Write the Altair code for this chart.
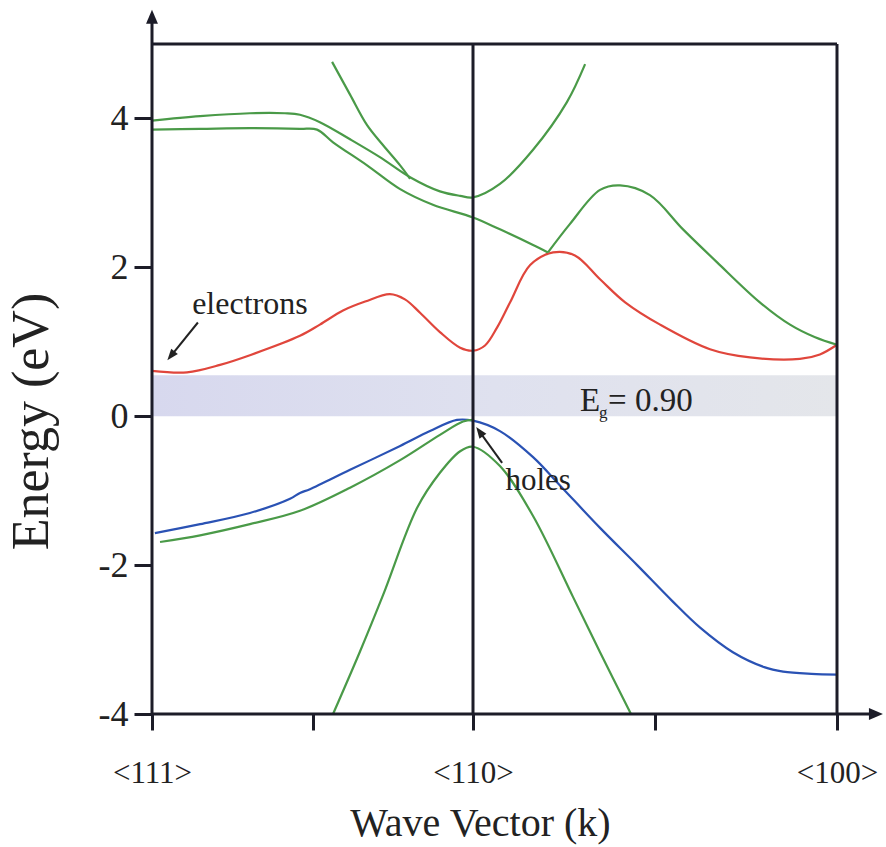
import altair as alt
import pandas as pd

# k positions: 0 = <111>, 1 = <110>, 2 = <100>
tick_k = [0, 0.5, 1, 1.5, 2]
tick_names = ["<111>", "", "<110>", "", "<100>"]
energy_ticks = [-4, -2, 0, 2, 4]

red_k = [0.0, 0.109, 0.212, 0.305, 0.461, 0.523, 0.595, 0.664, 0.741, 0.788, 0.835, 0.897, 0.960, 1.0,
         1.033, 1.066, 1.102, 1.157, 1.220, 1.280, 1.349, 1.418, 1.514, 1.651, 1.761, 1.898, 1.953, 2.0]
red_E = [0.61, 0.59, 0.69, 0.82, 1.08, 1.23, 1.42, 1.54, 1.64, 1.57, 1.39, 1.13, 0.92, 0.88,
         0.95, 1.19, 1.53, 2.03, 2.20, 2.16, 1.84, 1.53, 1.23, 0.90, 0.79, 0.77, 0.83, 0.96]

blue_k = [0.009, 0.150, 0.305, 0.430, 0.461, 0.492, 0.617, 0.773, 0.866, 0.950, 1.0,
          1.074, 1.165, 1.239, 1.349, 1.451, 1.547, 1.624, 1.714, 1.800, 1.852, 1.930, 2.0]
blue_E = [-1.57, -1.45, -1.30, -1.11, -1.03, -0.98, -0.72, -0.40, -0.20, -0.05, -0.06,
          -0.20, -0.55, -0.93, -1.50, -2.00, -2.48, -2.84, -3.17, -3.37, -3.43, -3.46, -3.47]

lh_k = [0.025, 0.150, 0.305, 0.461, 0.617, 0.773, 0.897, 0.969, 1.0]
lh_E = [-1.69, -1.60, -1.45, -1.27, -0.96, -0.59, -0.25, -0.07, -0.05]

so_k = [0.564, 0.648, 0.720, 0.826, 0.897, 0.960, 1.0, 1.074, 1.165, 1.275, 1.349, 1.434]
so_E = [-4.0, -3.16, -2.40, -1.23, -0.76, -0.47, -0.41, -0.67, -1.34, -2.43, -3.17, -4.0]

upA_k = [0.0, 0.150, 0.305, 0.414, 0.461, 0.523, 0.617, 0.710, 0.804, 0.897, 0.960, 1.0,
         1.074, 1.165, 1.258, 1.308]
upA_E = [3.97, 4.03, 4.07, 4.07, 4.05, 3.95, 3.72, 3.48, 3.21, 3.02, 2.96, 2.94,
         3.12, 3.58, 4.22, 4.73]

upB_k = [0.561, 0.617, 0.670, 0.720, 0.773, 0.804]
upB_E = [4.76, 4.32, 3.91, 3.64, 3.37, 3.19]

upC1_k = [0.0, 0.150, 0.305, 0.461, 0.514, 0.564, 0.670, 0.773, 0.875, 1.0, 1.074, 1.165, 1.206]
upC1_E = [3.85, 3.86, 3.87, 3.86, 3.85, 3.68, 3.37, 3.05, 2.84, 2.67, 2.51, 2.30, 2.20]

upC2_k = [1.206, 1.266, 1.349, 1.404, 1.486, 1.577, 1.670, 1.788, 1.871, 1.940, 2.0]
upC2_E = [2.20, 2.58, 3.04, 3.10, 2.97, 2.51, 2.07, 1.53, 1.23, 1.06, 0.96]

gap_top = 0.55
gap_label_value = "0.90"

series = [
    ("red", "cb", red_k, red_E),
    ("blue", "hh", blue_k, blue_E),
    ("green", "lh", lh_k, lh_E),
    ("green", "so", so_k, so_E),
    ("green", "upA", upA_k, upA_E),
    ("green", "upB", upB_k, upB_E),
    ("green", "upC1", upC1_k, upC1_E),
    ("green", "upC2", upC2_k, upC2_E),
]
rows = []
for kind, band, ks, es in series:
    for k, e in zip(ks, es):
        rows.append({"kind": kind, "band": band, "k": k, "E": e})
bands = pd.DataFrame(rows)

FONT = "Liberation Serif"
DARK = "#1c1c28"
TXT = "#222222"

xscale = alt.Scale(domain=[0, 1, 2], range=[0, 321, 685], nice=False, zero=False)
yscale = alt.Scale(domain=[-4, 5], nice=False, zero=False)

label_expr = ("datum.value == 0 ? '%s' : datum.value == 1 ? '%s' : datum.value == 2 ? '%s' : ''"
              % (tick_names[0], tick_names[2], tick_names[4]))

xaxis = alt.Axis(values=tick_k, labelExpr=label_expr, domain=False, grid=False,
                 tickSize=16, tickWidth=3, tickColor=DARK,
                 labelFont=FONT, labelFontSize=31, labelColor=TXT,
                 labelBaseline="alphabetic", labelPadding=52, labelFlush=False,
                 labelOverlap=False,
                 titleFont=FONT, titleFontSize=40, titleFontWeight="normal", titleColor=TXT,
                 titleX=328, titleY=121, titleBaseline="alphabetic", titleAlign="center")
yaxis = alt.Axis(values=energy_ticks, domain=False, grid=False,
                 tickSize=18, tickWidth=3, tickColor=DARK,
                 labelExpr="datum.value < 0 ? '-' + abs(datum.value) : '' + datum.value",
                 labelFont=FONT, labelFontSize=36, labelColor=TXT, labelPadding=6,
                 labelFlush=False,
                 titleFont=FONT, titleFontSize=52, titleFontWeight="normal", titleColor=TXT,
                 titleX=-121, titleY=377, titleBaseline="middle", titleAlign="center",
                 titleAngle=-90)


def X(field):
    return alt.X(field, type="quantitative", scale=xscale, axis=xaxis, title="Wave Vector (k)")


def Y(field):
    return alt.Y(field, type="quantitative", scale=yscale, axis=yaxis, title="Energy (eV)")


# energy gap shading
gap_df = pd.DataFrame([{"k": 0, "k2": 2, "E": 0, "E2": gap_top}])
gap = alt.Chart(gap_df).mark_rect(
    color=alt.Gradient(gradient="linear",
                       stops=[alt.GradientStop(color="#d7d8ee", offset=0),
                              alt.GradientStop(color="#dfe1ef", offset=0.5),
                              alt.GradientStop(color="#e4e6ea", offset=1)],
                       x1=0, x2=1, y1=0, y2=0)
).encode(x=X("k"), x2="k2", y=Y("E"), y2="E2")

# frame lines (top, right, middle) and axis lines
frame_df = pd.DataFrame([
    {"k": 0, "k2": 2, "E": 5, "E2": 5},
    {"k": 2, "k2": 2, "E": -4, "E2": 5},
    {"k": 1, "k2": 1, "E": -4, "E2": 5},
    {"k": 0, "k2": 0, "E": -4, "E2": 5.3},
    {"k": 0, "k2": 2.09, "E": -4, "E2": -4},
])
frame = alt.Chart(frame_df).mark_rule(color=DARK, strokeWidth=3).encode(
    x=X("k"), x2="k2", y=Y("E"), y2="E2")

# axis arrowheads
head_df = pd.DataFrame([
    {"k": 0, "E": 5.367, "shape": "M0,-1L0.85,1L-0.85,1Z"},
    {"k": 2.107, "E": -4, "shape": "M1,0L-1,0.85L-1,-0.85Z"},
])
heads = alt.Chart(head_df).mark_point(filled=True, size=196, color=DARK, opacity=1).encode(
    x=X("k"), y=Y("E"), shape=alt.Shape("shape:N", scale=None))

lines = alt.Chart(bands).mark_line(strokeWidth=2.2, interpolate="catmull-rom").encode(
    x=X("k"), y=Y("E"),
    color=alt.Color("kind:N", scale=alt.Scale(domain=["red", "blue", "green"],
                                              range=["#e0463c", "#2a52b4", "#4a9a48"]),
                    legend=None),
    detail="band:N")

# annotation arrows
ann_df = pd.DataFrame([
    {"k": 0.143, "E": 1.259, "k2": 0.059, "E2": 0.811},
    {"k": 1.080, "E": -0.626, "k2": 1.018, "E2": -0.207},
])
ann_lines = alt.Chart(ann_df).mark_rule(color=TXT, strokeWidth=2).encode(
    x=X("k"), x2="k2", y=Y("E"), y2="E2")
ann_head_df = pd.DataFrame([
    {"k": 0.059, "E": 0.811, "angle": 219},
    {"k": 1.018, "E": -0.207, "angle": 324},
])
ann_heads = alt.Chart(ann_head_df).mark_point(
    filled=True, size=130, color=TXT, opacity=1, shape="M0,-1L0.75,1L-0.75,1Z").encode(
    x=X("k"), y=Y("E"), angle=alt.Angle("angle:Q", scale=None))

texts_df = pd.DataFrame([
    {"k": 0.305, "E": 1.367, "t": "electrons", "size": 32, "align": "center"},
    {"k": 1.179, "E": -0.99, "t": "holes", "size": 31, "align": "center"},
    {"k": 1.294, "E": 0.074, "t": "E", "size": 33, "align": "left"},
    {"k": 1.346, "E": -0.03, "t": "g", "size": 17, "align": "left"},
    {"k": 1.371, "E": 0.074, "t": "= " + gap_label_value, "size": 33, "align": "left"},
])
texts = []
for _, r in texts_df.iterrows():
    texts.append(alt.Chart(pd.DataFrame([r])).mark_text(
        font=FONT, fontSize=int(r["size"]), color=TXT, align=r["align"],
        baseline="alphabetic").encode(x=X("k"), y=Y("E"), text="t:N"))

chart = alt.layer(gap, lines, frame, heads, ann_lines, ann_heads, *texts).properties(
    width=685, height=670,
    autosize=alt.AutoSizeParams(type="none"),
    padding={"left": 152, "top": 44, "right": 49, "bottom": 133},
    background="white",
).configure_view(stroke=None)

chart.save("out.html", embed_options={"renderer": "svg", "actions": False})
